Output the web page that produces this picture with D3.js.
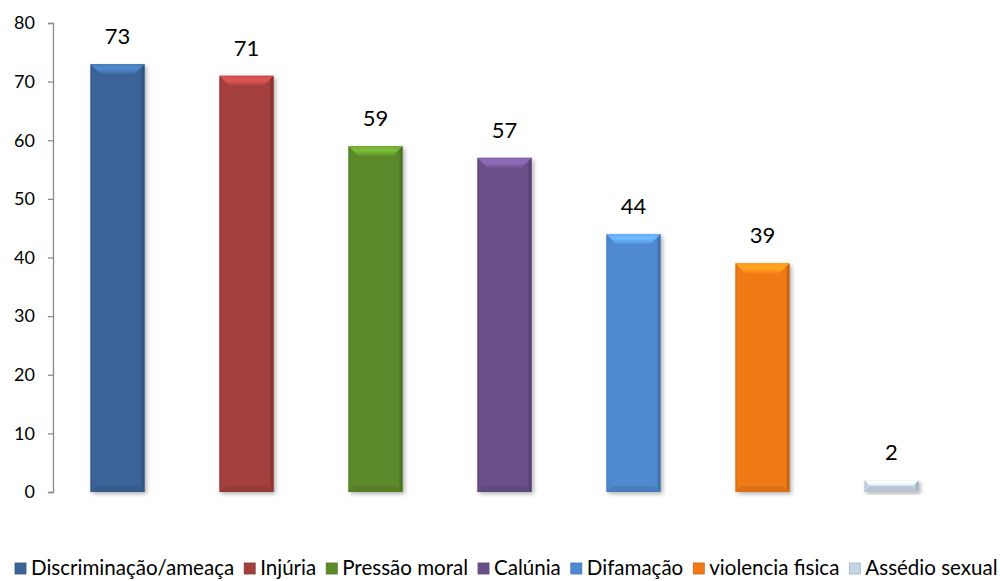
<!DOCTYPE html>
<html>
<head>
<meta charset="utf-8">
<script src="https://cdn.jsdelivr.net/npm/d3@7"></script>
<style>
  body { margin: 0; background: #fff; }
  svg { display: block; font-family: Lato, "Open Sans", sans-serif; }
</style>
</head>
<body>
<div id="app"></div>
<script>
const categories = ["Discriminação/ameaça", "Injúria", "Pressão moral", "Calúnia", "Difamação", "violencia fisica", "Assédio sexual"];
const values = [73, 71, 59, 57, 44, 39, 2];
const colors = ["#3b6497", "#a33f3d", "#5b8a29", "#6a5089", "#5089cf", "#ef7a17", "#c5d5e8"];
const yTicks = [0, 10, 20, 30, 40, 50, 60, 70, 80];

const full = { width: 1000, height: 581 };
const margin = { top: 23, left: 53, right: 44, bottom: 89 };

const svg = d3.select("#app").append("svg")
  .attr("width", full.width)
  .attr("height", full.height);

const x = d3.scaleBand()
  .domain(categories)
  .range([margin.left, full.width - margin.right])
  .paddingInner(0.58)
  .paddingOuter(0.29);

const y = d3.scaleLinear()
  .domain([0, 80])
  .range([full.height - margin.bottom, margin.top]);

const defs = svg.append("defs");

const shadow = defs.append("filter").attr("id", "shadow")
  .attr("x", "-20%").attr("y", "-10%").attr("width", "150%").attr("height", "130%");
shadow.append("feGaussianBlur").attr("in", "SourceAlpha").attr("stdDeviation", 2);
shadow.append("feOffset").attr("dx", 2).attr("dy", 2).attr("result", "b");
shadow.append("feComponentTransfer").append("feFuncA").attr("type", "linear").attr("slope", 0.3);
const fm = shadow.append("feMerge");
fm.append("feMergeNode");
fm.append("feMergeNode").attr("in", "SourceGraphic");

// gradients for the top bevel
colors.forEach((c, i) => {
  const g = defs.append("linearGradient").attr("id", "bev" + i)
    .attr("x1", 0).attr("y1", 0).attr("x2", 0).attr("y2", 1);
  g.append("stop").attr("offset", 0).attr("stop-color", d3.color(c).brighter(0.6));
  g.append("stop").attr("offset", 0.45).attr("stop-color", d3.color(c).brighter(0.9));
  g.append("stop").attr("offset", 1).attr("stop-color", d3.color(c).brighter(0.15));
});

// axis
const axis = svg.append("g")
  .attr("transform", `translate(${margin.left},0)`)
  .call(d3.axisLeft(y).tickValues(yTicks).tickSize(5).tickPadding(13));
axis.select(".domain").attr("stroke", "#8c8c8c").attr("stroke-width", 1.3);
axis.selectAll(".tick line").attr("stroke", "#8c8c8c").attr("stroke-width", 1.3);
axis.selectAll(".tick text")
  .attr("fill", "#000")
  .style("font-size", "18px")
  .style("font-family", "Lato, 'Open Sans', sans-serif");

// bars
const bev = 10;
const data = categories.map((c, i) => ({ c, v: values[i], col: colors[i], i }));
const bars = svg.append("g").selectAll("g")
  .data(data)
  .join("g")
  .attr("filter", "url(#shadow)");

bars.append("rect")
  .attr("x", d => x(d.c))
  .attr("y", d => y(d.v))
  .attr("width", x.bandwidth())
  .attr("height", d => y(0) - y(d.v))
  .attr("fill", d => d.col);

// right / left edges
bars.append("path")
  .attr("fill", d => d3.color(d.col).darker(0.7))
  .attr("opacity", 0.75)
  .attr("d", d => {
    const x0 = x(d.c), x1 = x0 + x.bandwidth(), t = y(d.v), b = y(0);
    const h = Math.min(3, (b - t) / 2);
    return `M${x1},${t}L${x1},${b}L${x1 - 3},${b - h}L${x1 - 3},${t + h}Z`;
  });
bars.append("path")
  .attr("fill", d => d3.color(d.col).darker(0.3))
  .attr("opacity", 0.6)
  .attr("d", d => {
    const x0 = x(d.c), t = y(d.v), b = y(0);
    const h = Math.min(2, (b - t) / 2);
    return `M${x0},${t}L${x0},${b}L${x0 + 2},${b - h}L${x0 + 2},${t + h}Z`;
  });

// top bevel
bars.append("path")
  .attr("fill", d => `url(#bev${d.i})`)
  .attr("d", d => {
    const x0 = x(d.c), x1 = x0 + x.bandwidth(), t = y(d.v), b = y(0);
    const h = Math.min(bev, (b - t) / 2);
    return `M${x0},${t}L${x1},${t}L${x1 - h},${t + h}L${x0 + h},${t + h}Z`;
  });
// bottom bevel
bars.append("path")
  .attr("fill", d => d3.color(d.col).darker(0.3))
  .attr("opacity", 0.8)
  .attr("d", d => {
    const x0 = x(d.c), x1 = x0 + x.bandwidth(), t = y(d.v), b = y(0);
    const h = Math.min(6, (b - t) / 2);
    return `M${x0},${b}L${x1},${b}L${x1 - h},${b - h}L${x0 + h},${b - h}Z`;
  });

// value labels
svg.append("g").selectAll("text")
  .data(data)
  .join("text")
  .attr("x", d => x(d.c) + x.bandwidth() / 2)
  .attr("y", d => y(d.v) - 20)
  .attr("text-anchor", "middle")
  .style("font-size", "22px")
  .attr("fill", "#000")
  .text(d => d.v);

// legend
const legend = svg.append("g").attr("transform", "translate(0,575)");
const items = legend.selectAll("g")
  .data(data)
  .join("g");
items.append("rect")
  .attr("y", -12).attr("width", 11).attr("height", 11)
  .attr("fill", d => d.col)
  .attr("stroke", d => d3.color(d.col).darker(0.5))
  .attr("stroke-width", 0.8);
items.append("text")
  .attr("x", 16).attr("y", 0)
  .style("font-size", "19px")
  .attr("fill", "#000")
  .text(d => d.c);

// fit legend to the width the reference uses
const target = 983, gap = 10;
let widths = [];
const measure = () => {
  widths = [];
  items.each(function () {
    widths.push(16 + d3.select(this).select("text").node().getComputedTextLength());
  });
  return d3.sum(widths) + gap * (widths.length - 1);
};
let total = measure();
const fixed = widths.length * 16 + gap * (widths.length - 1);
const fs = 19 * (target - fixed) / (total - fixed);
items.select("text").style("font-size", fs + "px");
total = measure();
let pos = 0;
items.attr("transform", (d, i) => {
  const tx = 15 + pos;
  pos += widths[i] + gap;
  return `translate(${tx},0)`;
});
</script>
</body>
</html>
